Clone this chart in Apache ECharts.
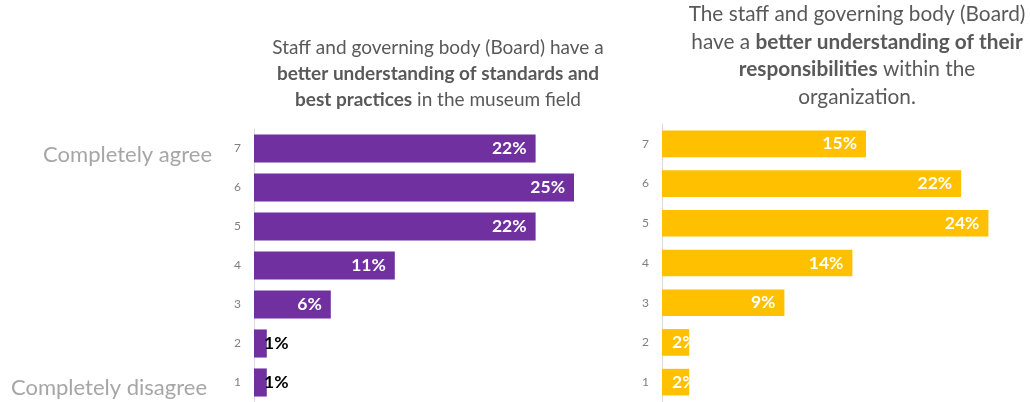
<!DOCTYPE html>
<html>
<head>
<meta charset="utf-8">
<script src="https://cdn.jsdelivr.net/npm/echarts@6/dist/echarts.min.js"></script>
<style>
  html, body { margin: 0; padding: 0; background: #ffffff; }
  #chart { width: 1030px; height: 402px; }
</style>
</head>
<body>
<div id="chart"></div>
<script>
// Agreement scale, 1 = completely disagree ... 7 = completely agree
const scale = ['1', '2', '3', '4', '5', '6', '7'];

// Share of respondents (%) per scale point
const standardsPct = [1, 1, 6, 11, 22, 25, 22];
const responsibilitiesPct = [2, 2, 9, 14, 24, 22, 15];

const FONT = 'Lato';
const PURPLE = '#7030A0';
const GOLD = '#FFC000';
const TEXT_DARK = '#595959';

// small bars get their label pushed out from the axis instead of inside the end
function barData(values, smallColor) {
  return values.map(function (v) {
    if (v <= 2) {
      return {
        value: v,
        label: {
          position: [10, '50%'],
          align: 'left',
          verticalAlign: 'middle',
          color: smallColor
        }
      };
    }
    return v;
  });
}

const valueLabel = {
  show: true,
  position: 'insideRight',
  distance: 9,
  color: '#ffffff',
  fontFamily: FONT,
  fontWeight: 'bold',
  fontSize: 17.5,
  formatter: function (p) { return Math.round(p.value) + '%'; }
};

const catAxis = function (gridIndex) {
  return {
    type: 'category',
    gridIndex: gridIndex,
    data: scale,
    axisLine: { show: true, lineStyle: { color: '#d9d9d9', width: 1 } },
    axisTick: { show: false },
    axisLabel: { color: '#7f7f7f', fontFamily: FONT, fontSize: 12, margin: 13 }
  };
};

const valAxis = function (gridIndex, max) {
  return {
    type: 'value',
    gridIndex: gridIndex,
    min: 0,
    max: max,
    show: false,
    splitLine: { show: false }
  };
};

const rich = function (size, lh) {
  return {
    n: { fontFamily: FONT, fontSize: size, lineHeight: lh, fill: TEXT_DARK, fontWeight: 'normal' },
    b: { fontFamily: FONT, fontSize: size, lineHeight: lh, fill: TEXT_DARK, fontWeight: 'bold' }
  };
};

const chart = echarts.init(document.getElementById('chart'), null, { renderer: 'canvas' });

chart.setOption({
  animation: false,
  backgroundColor: '#ffffff',
  grid: [
    { left: 254, top: 129, width: 384, bottom: -3.5 },
    { left: 662, top: 124, width: 353.6, bottom: -2.7 }
  ],
  xAxis: [valAxis(0, 30), valAxis(1, 26)],
  yAxis: [catAxis(0), catAxis(1)],
  series: [
    {
      type: 'bar',
      xAxisIndex: 0,
      yAxisIndex: 0,
      data: barData(standardsPct, '#000000'),
      barCategoryGap: '28%',
      itemStyle: { color: PURPLE },
      label: valueLabel
    },
    {
      type: 'bar',
      xAxisIndex: 1,
      yAxisIndex: 1,
      data: barData(responsibilitiesPct, '#ffffff'),
      barCategoryGap: '33%',
      itemStyle: { color: GOLD },
      label: valueLabel
    }
  ],
  graphic: [
    {
      type: 'text',
      x: 438,
      y: 35,
      style: {
        text: '{n|Staff and governing body (Board) have a}\n{b|better understanding of standards and}\n{b|best practices}{n| in the museum field}',
        rich: rich(19, 26),
        align: 'center',
        verticalAlign: 'top'
      }
    },
    {
      type: 'text',
      x: 857,
      y: 1,
      style: {
        text: '{n|The staff and governing body (Board)}\n{n|have a }{b|better understanding of their}\n{b|responsibilities}{n| within the}\n{n|organization.}',
        rich: rich(20.8, 27.5),
        align: 'center',
        verticalAlign: 'top'
      }
    },
    {
      type: 'text',
      x: 212,
      y: 155,
      style: {
        text: 'Completely agree',
        fontFamily: FONT,
        fontSize: 22,
        fill: '#a6a6a6',
        align: 'right',
        verticalAlign: 'middle'
      }
    },
    {
      type: 'text',
      x: 207,
      y: 388,
      style: {
        text: 'Completely disagree',
        fontFamily: FONT,
        fontSize: 22,
        fill: '#a6a6a6',
        align: 'right',
        verticalAlign: 'middle'
      }
    }
  ]
});
</script>
</body>
</html>
